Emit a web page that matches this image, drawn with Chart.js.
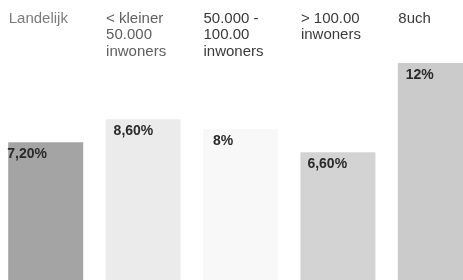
<!DOCTYPE html>
<html>
<head>
<meta charset="utf-8">
<script src="https://cdn.jsdelivr.net/npm/chart.js@4.4.1/dist/chart.umd.min.js"></script>
<style>
html, body { margin: 0; padding: 0; background: #fff; overflow: hidden; }
#wrap { position: relative; width: 463px; height: 280px; overflow: hidden; }
#myBarChart { position: absolute; left: -3px; top: 0; }
</style>
</head>
<body>
<div id="wrap"><canvas id="myBarChart" width="487" height="280"></canvas></div>
<script>
// data
var categories = [['Landelijk'], ['< kleiner', '50.000', 'inwoners'], ['50.000 -', '100.00', 'inwoners'], ['> 100.00', 'inwoners'], ['8uch']];
var values = [7.2, 8.6, 8, 6.6, 12];
var valueLabels = ['7,20%', '8,60%', '8%', '6,60%', '12%'];

// styles
var barColors = ['#a4a4a4', '#ebebeb', '#f8f8f8', '#d3d3d3', '#cbcbcb'];
var tickColors = ['#7b7b7b', '#5e5e5e', '#3a3a3a', '#3a3a3a', '#3a3a3a'];
var labelShift = [-1, 8, 10, 7, 8];
var yMin = -1.15;
var yMax = 12.16;

var valueLabelPlugin = {
    id: 'valueLabels',
    afterDatasetsDraw: function(chart) {
        var ctx = chart.ctx;
        var meta = chart.getDatasetMeta(0);
        ctx.save();
        ctx.font = 'bold 14px "Liberation Sans", Arial, sans-serif';
        ctx.fillStyle = '#2a2a2a';
        ctx.textAlign = 'left';
        ctx.textBaseline = 'alphabetic';
        meta.data.forEach(function(bar, i) {
            var left = bar.x - bar.width / 2;
            ctx.fillText(valueLabels[i], left + labelShift[i], bar.y + 16);
        });
        ctx.restore();
    }
};

var ctx = document.getElementById('myBarChart');
var myChart = new Chart(ctx, {
    type: 'bar',
    data: {
        labels: categories,
        datasets: [{
            data: values,
            backgroundColor: barColors,
            base: yMin,
            barPercentage: 0.77,
            categoryPercentage: 1
        }]
    },
    options: {
        responsive: false,
        animation: false,
        layout: { padding: { top: 10, left: 0, right: 0, bottom: 0 } },
        plugins: {
            legend: { display: false },
            tooltip: { enabled: false }
        },
        scales: {
            x: {
                position: 'top',
                grid: { display: false, drawTicks: false },
                border: { display: false },
                ticks: {
                    align: 'start',
                    crossAlign: 'far',
                    labelOffset: -37,
                    padding: 0,
                    maxRotation: 0,
                    autoSkip: false,
                    color: function(c) { return tickColors[c.index]; },
                    font: { family: '"Liberation Sans", Arial, sans-serif', size: 15, lineHeight: 1.12 }
                }
            },
            y: { display: false, min: yMin, max: yMax }
        }
    },
    plugins: [valueLabelPlugin]
});
</script>
</body>
</html>
